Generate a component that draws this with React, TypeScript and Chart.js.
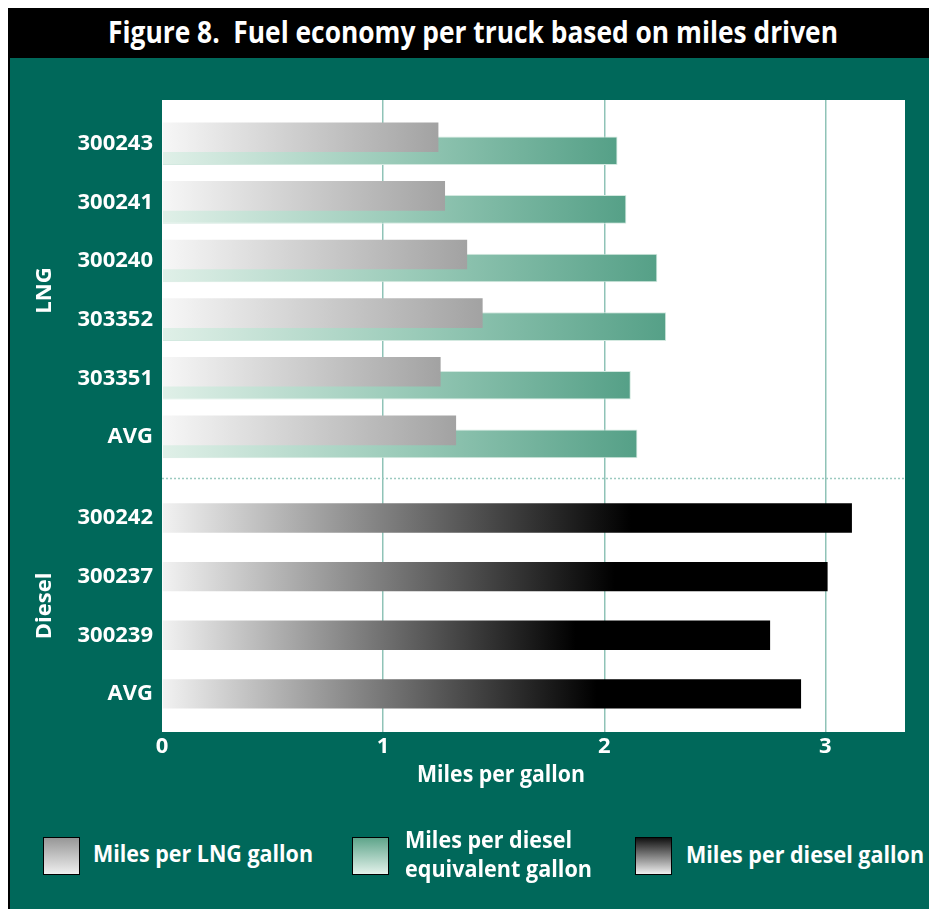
import React, { useEffect, useRef } from 'react';
import { Chart, registerables } from 'chart.js';

Chart.register(...registerables);

// ---------- data ----------
const lngTrucks = ['300243', '300241', '300240', '303352', '303351', 'AVG'];
const lngMilesPerLngGallon = [1.25, 1.28, 1.38, 1.45, 1.26, 1.33];
const lngMilesPerDieselEqGallon = [2.06, 2.1, 2.24, 2.28, 2.12, 2.15];
const dieselTrucks = ['300242', '300237', '300239', 'AVG'];
const dieselMilesPerGallon = [3.12, 3.01, 2.75, 2.89];
const groupNames = ['LNG', 'Diesel'];
const seriesNames = ['Miles per LNG gallon', 'Miles per diesel equivalent gallon', 'Miles per diesel gallon'];
const titleText = 'Figure 8.  Fuel economy per truck based on miles driven';
const xAxisTitle = 'Miles per gallon';
const xMax = 3.36;

// layout helpers
const GROUP_GAP = 0.38;
const lngPos = lngTrucks.map((_, i) => i);
const dieselPos = dieselTrucks.map((_, i) => lngTrucks.length + GROUP_GAP + i);
const allPos = [...lngPos, ...dieselPos];
const allLabels = [...lngTrucks, ...dieselTrucks];

const GREEN = '#00685a';
const FONT = '"Open Sans", sans-serif';

type Stop = [number, string];
function hGrad(stops: Stop[]) {
  return (c: any) => {
    const chart = c.chart;
    const area = chart.chartArea;
    if (!area || !c.parsed) return stops[stops.length - 1][1];
    const xs = chart.scales.x;
    const x0 = xs.getPixelForValue(0);
    const x1 = xs.getPixelForValue(c.parsed.x);
    if (!(x1 > x0)) return stops[0][1];
    const g = chart.ctx.createLinearGradient(x0, 0, x1, 0);
    stops.forEach(([o, col]) => g.addColorStop(o, col));
    return g;
  };
}

const decor = {
  id: 'decor',
  beforeDraw(chart: any) {
    const { ctx, chartArea: a } = chart;
    ctx.save();
    ctx.fillStyle = '#ffffff';
    ctx.fillRect(a.left, a.top, a.right - a.left, a.bottom - a.top);
    ctx.restore();
  },
  beforeDatasetsDraw(chart: any) {
    const { ctx, chartArea: a, scales } = chart;
    const yv = (lngPos[lngPos.length - 1] + dieselPos[0]) / 2;
    const y = Math.round(scales.y.getPixelForValue(yv)) + 0.5;
    ctx.save();
    ctx.strokeStyle = '#9ccac0';
    ctx.lineWidth = 1.5;
    ctx.setLineDash([2, 2]);
    ctx.beginPath();
    ctx.moveTo(a.left, y);
    ctx.lineTo(a.right, y);
    ctx.stroke();
    ctx.restore();
  },
  afterDraw(chart: any) {
    const { ctx, scales } = chart;
    const groups = [lngPos, dieselPos];
    ctx.save();
    ctx.fillStyle = '#ffffff';
    ctx.font = `700 22px ${FONT}`;
    ctx.textAlign = 'center';
    ctx.textBaseline = 'middle';
    groups.forEach((g, i) => {
      const yc = scales.y.getPixelForValue((g[0] + g[g.length - 1]) / 2);
      ctx.save();
      ctx.translate(37, yc);
      ctx.rotate(-Math.PI / 2);
      ctx.fillText(groupNames[i], 0, 0);
      ctx.restore();
    });
    ctx.restore();
  },
};

let mctx: CanvasRenderingContext2D | null = null;
function textWidth(t: string, size: number) {
  if (!mctx) mctx = document.createElement('canvas').getContext('2d');
  mctx!.font = `700 ${size}px ${FONT}`;
  return mctx!.measureText(t).width;
}

function FitText({ text, size, left, centerY, width }: { text: string; size: number; left: number; centerY: number; width: number }) {
  const k = width / textWidth(text, size);
  const lh = Math.round(size * 1.3);
  return (
    <div
      style={{
        position: 'absolute',
        left,
        top: centerY - lh / 2 - size * 0.15,
        height: lh,
        lineHeight: lh + 'px',
        fontFamily: FONT,
        fontWeight: 700,
        fontSize: size,
        color: '#fff',
        whiteSpace: 'pre',
        transform: `scaleX(${k})`,
        transformOrigin: '0 50%',
      }}
    >
      {text}
    </div>
  );
}

function Swatch({ left, top, bg }: { left: number; top: number; bg: string }) {
  return (
    <div
      style={{
        position: 'absolute',
        left,
        top,
        width: 37,
        height: 38,
        boxSizing: 'border-box',
        border: '1.5px solid #000',
        background: bg,
      }}
    />
  );
}

function BarChart() {
  const ref = useRef<HTMLCanvasElement | null>(null);
  useEffect(() => {
    if (!ref.current) return;
    const chart = new Chart(ref.current, {
      type: 'bar',
      data: {
        datasets: [
          {
            label: seriesNames[0],
            data: lngPos.map((p, i) => ({ x: lngMilesPerLngGallon[i], y: p })),
            backgroundColor: hGrad([[0, '#f7f7f7'], [1, '#a2a2a2']]),
            borderWidth: 0,
            categoryPercentage: 0.461,
            barPercentage: 2.19,
          },
          {
            label: seriesNames[1],
            data: lngPos.map((p, i) => ({ x: lngMilesPerDieselEqGallon[i], y: p })),
            backgroundColor: hGrad([[0, '#e0f0e8'], [0.5, '#9bcbb9'], [1, '#55a087']]),
            borderColor: '#d3e9e0',
            borderWidth: 1,
            categoryPercentage: 0.461,
            barPercentage: 2.12,
          },
          {
            label: seriesNames[2],
            data: dieselPos.map((p, i) => ({ x: dieselMilesPerGallon[i], y: p })),
            backgroundColor: hGrad([[0, '#f2f2f2'], [0.68, '#000000'], [1, '#000000']]),
            borderWidth: 0,
            grouped: false,
            categoryPercentage: 1,
            barPercentage: 0.5,
          } as any,
        ],
      },
      options: {
        indexAxis: 'y',
        responsive: false,
        devicePixelRatio: 1,
        animation: false,
        layout: { padding: { top: 42, right: 32, left: 0, bottom: 56 } },
        plugins: { legend: { display: false }, tooltip: { enabled: false } },
        scales: {
          x: {
            type: 'linear',
            min: 0,
            max: xMax,
            offset: false,
            afterFit: (s: any) => {
              s.height = 30;
            },
            border: { display: false },
            grid: {
              drawTicks: false,
              lineWidth: 1.5,
              color: (c: any) => (c.tick && c.tick.value === 0 ? 'rgba(0,0,0,0)' : '#8fc3b7'),
            },
            ticks: {
              stepSize: 1,
              includeBounds: false,
              color: '#ffffff',
              padding: 2,
              font: { family: FONT, weight: 'bold', size: 22 },
            },
          },
          y: {
            type: 'linear',
            reverse: true,
            offset: false,
            min: -0.75,
            max: 10.03,
            afterFit: (s: any) => {
              s.width = 154;
            },
            afterBuildTicks: (s: any) => {
              s.ticks = allPos.map((v) => ({ value: v }));
            },
            border: { display: false },
            grid: { display: false, drawTicks: false, offset: false },
            ticks: {
              autoSkip: false,
              color: '#ffffff',
              padding: 9,
              font: { family: FONT, weight: 'bold', size: 22 },
              callback: (v: any) => {
                const i = allPos.findIndex((p) => Math.abs(p - v) < 1e-6);
                return i >= 0 ? allLabels[i] : '';
              },
            },
          },
        },
      } as any,
      plugins: [decor],
    });
    return () => chart.destroy();
  }, []);
  return <canvas ref={ref} width={929} height={760} style={{ display: 'block' }} />;
}

export default function App() {
  return (
    <div style={{ position: 'relative', width: 929, height: 901, background: GREEN, overflow: 'hidden' }}>
      <div style={{ position: 'absolute', left: 0, top: 0, width: 2, height: 901, background: '#000' }} />
      <div style={{ position: 'absolute', left: 0, top: 0, width: 929, height: 50, background: '#000' }} />
      <FitText text={titleText} size={30} left={100} centerY={28} width={730} />
      <div style={{ position: 'absolute', left: 0, top: 50 }}>
        <BarChart />
      </div>
      <FitText text={xAxisTitle} size={23} left={409} centerY={768} width={168} />
      <Swatch left={35} top={829} bg="linear-gradient(to bottom, #979797, #efefef)" />
      <FitText text={seriesNames[0]} size={23} left={85} centerY={848} width={220} />
      <Swatch left={344} top={829} bg="linear-gradient(to bottom, #5fa58b, #e3f2eb)" />
      <FitText text="Miles per diesel" size={23} left={397} centerY={834} width={167} />
      <FitText text="equivalent gallon" size={23} left={397} centerY={863} width={187} />
      <Swatch left={627} top={829} bg="linear-gradient(to bottom, #111111, #efefef)" />
      <FitText text={seriesNames[2]} size={23} left={678} centerY={849} width={238} />
    </div>
  );
}
